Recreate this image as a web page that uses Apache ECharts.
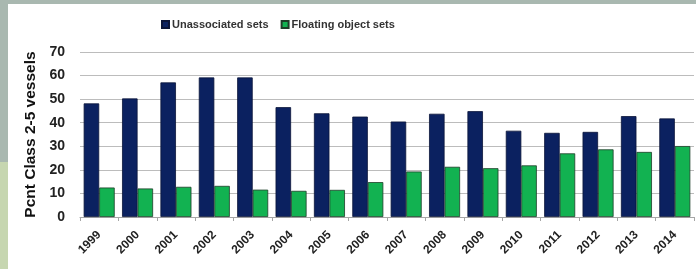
<!DOCTYPE html>
<html>
<head>
<meta charset="utf-8">
<script src="https://cdn.jsdelivr.net/npm/echarts@6/dist/echarts.min.js"></script>
<style>
html,body{margin:0;padding:0;background:#fff;}
#chart{width:696px;height:269px;}
</style>
</head>
<body>
<div id="chart"></div>
<script>
const years = ['1999','2000','2001','2002','2003','2004','2005','2006','2007','2008','2009','2010','2011','2012','2013','2014'];
const unassociated = [48.2, 50.3, 57.1, 59.2, 59.2, 46.6, 44.0, 42.6, 40.5, 43.8, 44.9, 36.6, 35.7, 36.1, 42.8, 41.8];
const floating = [12.5, 12.1, 12.8, 13.2, 11.6, 11.1, 11.5, 14.8, 19.3, 21.3, 20.7, 21.9, 27.0, 28.7, 27.6, 30.1];
const yTicks = { min: 0, max: 70, interval: 10 };
const seriesNames = ['Unassociated sets', 'Floating object sets'];
const yTitle = 'Pcnt Class 2-5 vessels';

const chart = echarts.init(document.getElementById('chart'), null, { renderer: 'canvas' });
const sans = "'Liberation Sans', Arial, sans-serif";
chart.setOption({
  animation: false,
  backgroundColor: '#ffffff',
  graphic: [
    { type: 'rect', left: 0, top: 0, shape: { width: 696, height: 4 }, style: { fill: '#a9b8b0' }, silent: true },
    { type: 'rect', left: 0, top: 0, shape: { width: 8, height: 162 }, style: { fill: '#a9b8b0' }, silent: true },
    { type: 'rect', left: 0, top: 162, shape: { width: 8, height: 107 }, style: { fill: '#c6d6b0' }, silent: true }
  ],
  legend: {
    left: 156,
    top: 14,
    itemWidth: 7,
    itemHeight: 7,
    itemGap: 12,
    icon: 'rect',
    textStyle: { fontFamily: sans, fontWeight: 'bold', fontSize: 11, color: '#333333', padding: [0, 0, 0, -2] },
    data: seriesNames
  },
  grid: { left: 80, right: 2, top: 52, bottom: 52, containLabel: false },
  xAxis: {
    type: 'category',
    data: years,
    axisLine: { lineStyle: { color: '#a6a6a6', width: 1 } },
    axisTick: { show: true, length: 4, alignWithLabel: false, lineStyle: { color: '#a6a6a6' } },
    axisLabel: {
      rotate: 45,
      margin: 16,
      fontFamily: sans,
      fontWeight: 'bold',
      fontSize: 12,
      color: '#222222'
    }
  },
  yAxis: {
    type: 'value',
    min: yTicks.min,
    max: yTicks.max,
    interval: yTicks.interval,
    name: yTitle,
    nameLocation: 'middle',
    nameGap: 34,
    nameRotate: 90,
    nameTextStyle: { fontFamily: sans, fontWeight: 'bold', fontSize: 15.5, color: '#111111' },
    axisLine: { show: false },
    axisTick: { show: false },
    axisLabel: { margin: 15, fontFamily: sans, fontWeight: 'bold', fontSize: 14, color: '#222222' },
    splitLine: { lineStyle: { color: '#bcbcbc', width: 1 } }
  },
  series: [
    {
      name: seriesNames[0],
      type: 'bar',
      data: unassociated,
      barWidth: 15.5,
      barGap: '0%',
      itemStyle: { color: '#0b2160', borderColor: '#0a1438', borderWidth: 0.8 }
    },
    {
      name: seriesNames[1],
      type: 'bar',
      data: floating,
      barWidth: 15.5,
      barGap: '0%',
      itemStyle: { color: '#12b251', borderColor: '#1e3d28', borderWidth: 0.8 }
    }
  ]
});
</script>
</body>
</html>
